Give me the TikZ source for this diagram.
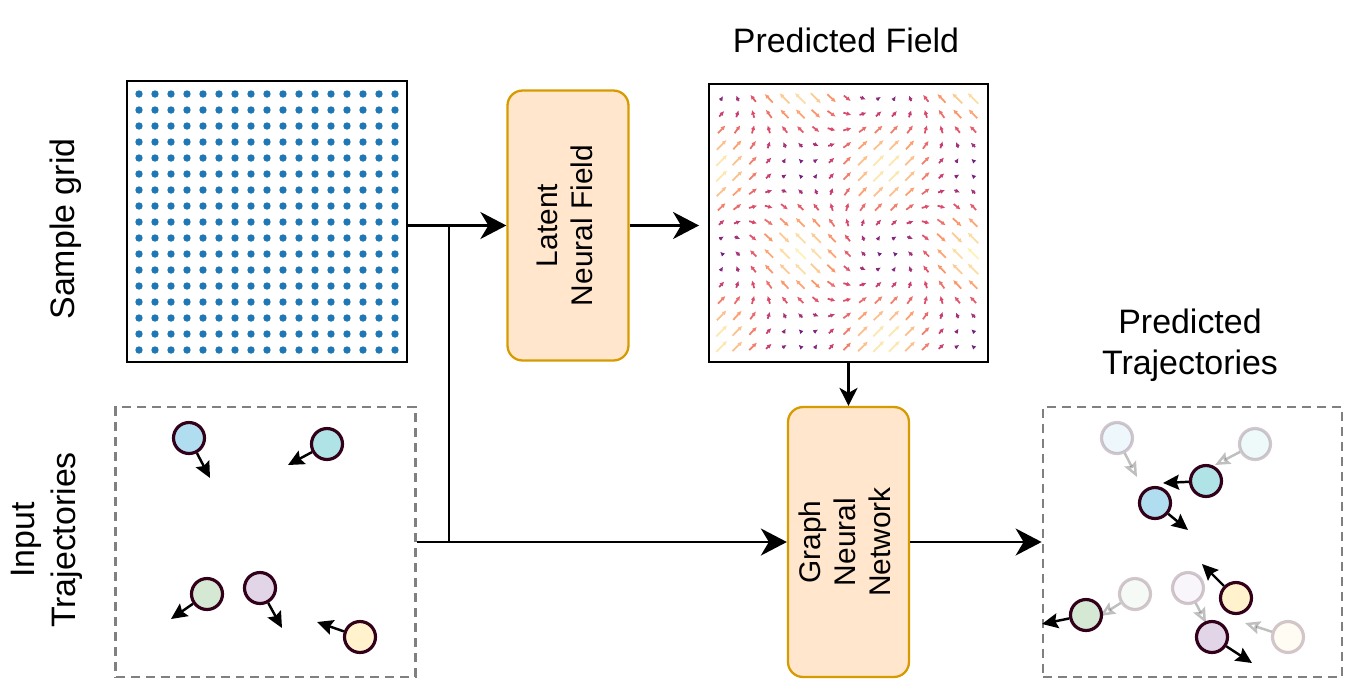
\documentclass[tikz,border=0pt]{standalone}
\usepackage{fontspec}
\usepackage{graphicx}
\setmainfont{Liberation Sans}
\usetikzlibrary{arrows.meta}
\definecolor{boxfill}{HTML}{FFE6CC}
\definecolor{boxline}{HTML}{D79B00}
\definecolor{pline}{HTML}{33001A}
\definecolor{pblue}{HTML}{B1DDF0}
\definecolor{pteal}{HTML}{B0E3E6}
\definecolor{pgreen}{HTML}{D5E8D4}
\definecolor{ppurple}{HTML}{E1D5E7}
\definecolor{pyellow}{HTML}{FFF2CC}
\definecolor{dotc}{HTML}{1F77B4}
\definecolor{magA}{HTML}{6B1D81}
\definecolor{magB}{HTML}{D8456C}
\definecolor{magC}{HTML}{FD9A6A}
\definecolor{magD}{HTML}{FCF2BA}
\begin{document}
\begin{tikzpicture}[x=0.02cm, y=-0.02cm,
	box/.style={shape=rectangle, rounded corners=0.3cm, line width=1.3pt, draw=boxline, fill=boxfill, minimum width=2.42cm, minimum height=5.4cm, inner sep=0, font=\fontsize{17}{20}\selectfont},
	frame/.style={shape=rectangle, draw=black, line width=0.9pt, inner sep=0},
	dbox/.style={shape=rectangle, draw=black!50, line width=1.6pt, dash pattern=on 0.18cm off 0.12cm, minimum width=6cm, minimum height=5.4cm, inner sep=0},
	lbl/.style={align=center, inner sep=0, font=\fontsize{19.3}{23.2}\selectfont},
	part/.style={shape=circle, minimum size=0.62cm, inner sep=0, line width=1.8pt, draw=pline},
	parr/.style={line width=1.4pt, -{Stealth[length=0.32cm,width=0.3cm,inset=0.05cm]}},
	garr/.style={line width=1.4pt, -{Stealth[open,length=0.3cm,width=0.26cm,inset=0.05cm]}},
	flow/.style={line width=1.5pt, -{Stealth[length=0.52cm,width=0.54cm,inset=0.16cm]}},
	qv/.style={line width=1pt, -{Latex[length=2.6pt,width=2.6pt]}}]
		\useasboundingbox (0,0) rectangle (1347,681);
		\node (tfield) at (846,52) [lbl, anchor=base] {Predicted Field};
		\node (tout) at (1190,345) [lbl] {Predicted\\Trajectories};
		\node (tgrid) at (66,229) [lbl, rotate=90] {Sample grid};
		\node (tinp) at (47,540) [lbl, rotate=90] {Input\\Trajectories};
		\node (grid) at (267,221.5) [frame, minimum width=5.6cm, minimum height=5.62cm] {};
		\foreach \i in {0,...,16}
			\foreach \j in {0,...,16}
				\fill[dotc] (139+16*\i,94+16*\j) circle[radius=0.074cm];
		\node (field) at (848.5,223) [frame, minimum width=5.58cm, minimum height=5.56cm, outer xsep=0.2cm] {};
		\foreach \i in {0,...,16}
			\foreach \j in {0,...,16} {
				\pgfmathsetmacro\X{360*(\i-5)/11}
				\pgfmathsetmacro\Y{360*(\j-4.5)/11}
				\pgfmathsetmacro\vb{(sin(\X/2))^2*(cos(\Y/2))^2}
				\pgfmathsetmacro\va{(cos(\X/2))^2*(sin(\Y/2))^2*((sin(\X)*sin(\Y)<0) ? 1 : -1)}
				\pgfmathsetmacro\mg{sqrt(\va*\va+\vb*\vb)}
				\pgfmathsetmacro\h{(2+6*\mg)/(1.4142*max(\mg,0.0001))}
				\pgfmathsetmacro\dx{\h*(\va+\vb)}
				\pgfmathsetmacro\dy{\h*(\va-\vb)}
				\pgfmathsetmacro\cv{min(\mg*300,300)}
				\ifdim\cv pt<100pt
					\colorlet{qc}{magB!\cv!magA}
				\else\ifdim\cv pt<200pt
					\pgfmathsetmacro\cw{\cv-100}
					\colorlet{qc}{magC!\cw!magB}
				\else
					\pgfmathsetmacro\cw{\cv-200}
					\colorlet{qc}{magD!\cw!magC}
				\fi\fi
				\draw[qv, qc] (721.7+15.7*\i-\dx,98.3+15.5*\j-\dy) -- (721.7+15.7*\i+\dx,98.3+15.5*\j+\dy);
			}
		\node (lnf) at (568,225.5) [box] {\rotatebox{90}{\begin{tabular}{@{}c@{}}Latent\\Neural Field\end{tabular}}};
		\node (gnn) at (848.5,542) [box] {\rotatebox{90}{\begin{tabular}{@{}c@{}}Graph\\Neural\\Network\end{tabular}}};
		\node (inp) at (265.5,542) [dbox] {};
		\node (out) at (1192.5,542) [dbox, minimum width=5.98cm] {};
		\coordinate (jn) at (449,542);
		\draw[flow] (grid.east |- lnf.west) -- (lnf.west);
		\draw[line width=1.5pt] (jn) -- (jn |- lnf.west);
		\draw[flow] (lnf.east) -- (field.west |- lnf.east);
		\draw[line width=1.5pt, -{Stealth[length=0.36cm,width=0.36cm,inset=0.1cm]}] (field.south -| gnn.north) -- (gnn.north);
		\draw[flow] (inp.east) -- (gnn.west);
		\draw[flow] (gnn.east) -- (out.west);
		\foreach \n/\x/\y/\ex/\ey/\c in {1/189/438/210/478/pblue, 2/327/444/288/465/pteal, 3/207/594/171/619/pgreen, 4/260/588/282/628/ppurple, 5/360/637/317/622/pyellow} {
			\node (a\n) at (\x,\y) [part, fill=\c] {};
			\coordinate (a\n e) at (\ex,\ey);
			\draw[parr] (a\n) -- (a\n e);
		}
		\foreach \n/\x/\y/\ex/\ey/\c in {1/1117/438/1137/477/pblue, 2/1255/444/1215/465/pteal, 3/1135/594/1100/616/pgreen, 4/1188/588/1206/623/ppurple, 5/1288/637/1245/623/pyellow} {
			\node (g\n) at (\x,\y) [part, fill=\c, opacity=0.22] {};
			\coordinate (g\n e) at (\ex,\ey);
			\draw[garr, opacity=0.25] (g\n) -- (g\n e);
		}
		\foreach \n/\x/\y/\ex/\ey/\c in {1/1155/503/1188/530/pblue, 2/1206/481/1163/483/pteal, 3/1086/615/1042/624/pgreen, 4/1212/637/1252/663/ppurple, 5/1236/598/1202/564/pyellow} {
			\node (b\n) at (\x,\y) [part, fill=\c] {};
			\coordinate (b\n e) at (\ex,\ey);
			\draw[parr] (b\n) -- (b\n e);
		}
\end{tikzpicture}
\end{document}
